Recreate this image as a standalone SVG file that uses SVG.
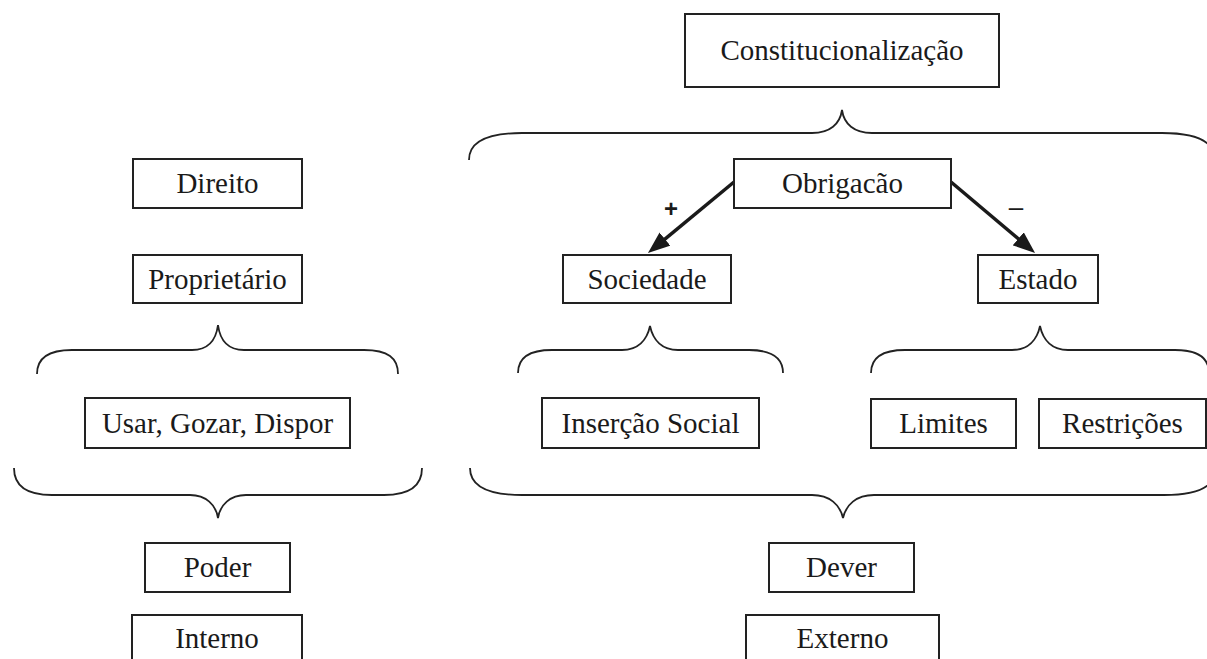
<svg xmlns="http://www.w3.org/2000/svg" width="1207" height="659" viewBox="0 0 1207 659">
<defs>
<style>
.box{fill:#fff;stroke:#222;stroke-width:2}
.t{font-family:"Liberation Serif","Times New Roman",serif;font-size:29px;fill:#1a1a1a;text-anchor:middle}
.brace{fill:none;stroke:#222;stroke-width:1.8}
.arr{stroke:#1a1a1a;stroke-width:3.5;fill:none}
.sign{font-family:"Liberation Sans",Arial,sans-serif;fill:#1a1a1a;text-anchor:middle}
</style>
<marker id="ah" viewBox="0 0 22 17" refX="2" refY="8.5" markerWidth="22" markerHeight="17" markerUnits="userSpaceOnUse" orient="auto">
<path d="M0,0 L22,8.5 L0,17 z" fill="#1a1a1a"/>
</marker>
</defs>
<rect width="1207" height="659" fill="#fff"/>

<g id="braces">
<path class="brace" d="M37 374 C37 358 48 350 72 350 L192 350 C208 350 216 340 218 325 C220 340 228 350 244 350 L364 350 C388 350 398 358 398 374"/>
<path class="brace" d="M14 468 C14 485 26 495 52 495 L190 495 C206 495 216 505 218 518 C220 505 230 495 246 495 L384 495 C410 495 422 485 422 468"/>
<path class="brace" d="M469 160 C469 143 485 133 522 133 L812 133 C830 133 840 124 842 110 C844 124 854 133 872 133 L1162 133 C1199 133 1215 143 1215 160"/>
<path class="brace" d="M470 468 C470 485 486 495 522 495 L812 495 C830 495 840 505 843 518 C846 505 856 495 874 495 L1164 495 C1200 495 1216 485 1216 468"/>
<path class="brace" d="M518 373 C518 358 528 350 552 350 L622 350 C638 350 647 340 650 326 C653 340 662 350 678 350 L749 350 C773 350 783 358 783 373"/>
<path class="brace" d="M871 373 C871 358 881 350 905 350 L1012 350 C1028 350 1037 340 1040 326 C1043 340 1052 350 1068 350 L1175 350 C1199 350 1209 358 1209 373"/>
</g>

<g id="connectors">
<line class="arr" x1="734" y1="182" x2="663.4" y2="240.3" marker-end="url(#ah)"/>
<line class="arr" x1="951" y1="182" x2="1019.8" y2="240.1" marker-end="url(#ah)"/>
<text class="sign" x="671" y="217" font-size="24" font-weight="bold">+</text>
<text class="sign" x="1016" y="216" font-size="26">–</text>
</g>

<g id="n-constitucionalizacao"><rect class="box" x="685" y="14" width="314" height="73"/><text class="t" x="842" y="60">Constitucionalização</text></g>
<g id="n-obrigacao"><rect class="box" x="734" y="159" width="217" height="49"/><text class="t" x="842.5" y="193">Obrigacão</text></g>
<g id="n-direito"><rect class="box" x="133" y="159" width="169" height="49"/><text class="t" x="217.5" y="193">Direito</text></g>
<g id="n-proprietario"><rect class="box" x="133" y="255" width="169" height="48"/><text class="t" x="217.5" y="289">Proprietário</text></g>
<g id="n-sociedade"><rect class="box" x="563" y="255" width="168" height="48"/><text class="t" x="647" y="289">Sociedade</text></g>
<g id="n-estado"><rect class="box" x="978" y="255" width="120" height="48"/><text class="t" x="1038" y="289">Estado</text></g>
<g id="n-usar"><rect class="box" x="85" y="398" width="265" height="50"/><text class="t" x="217.5" y="433">Usar, Gozar, Dispor</text></g>
<g id="n-insercao"><rect class="box" x="542" y="398" width="217" height="50"/><text class="t" x="650.5" y="433">Inserção Social</text></g>
<g id="n-limites"><rect class="box" x="871" y="399" width="145" height="49"/><text class="t" x="943.5" y="433">Limites</text></g>
<g id="n-restricoes"><rect class="box" x="1039" y="399" width="167" height="49"/><text class="t" x="1122.5" y="433">Restrições</text></g>
<g id="n-poder"><rect class="box" x="145" y="543" width="145" height="49"/><text class="t" x="217.5" y="577">Poder</text></g>
<g id="n-dever"><rect class="box" x="769" y="543" width="145" height="49"/><text class="t" x="841.5" y="577">Dever</text></g>
<g id="n-interno"><rect class="box" x="132" y="615" width="170" height="60"/><text class="t" x="217" y="648">Interno</text></g>
<g id="n-externo"><rect class="box" x="746" y="615" width="193" height="60"/><text class="t" x="842.5" y="648">Externo</text></g>
</svg>
